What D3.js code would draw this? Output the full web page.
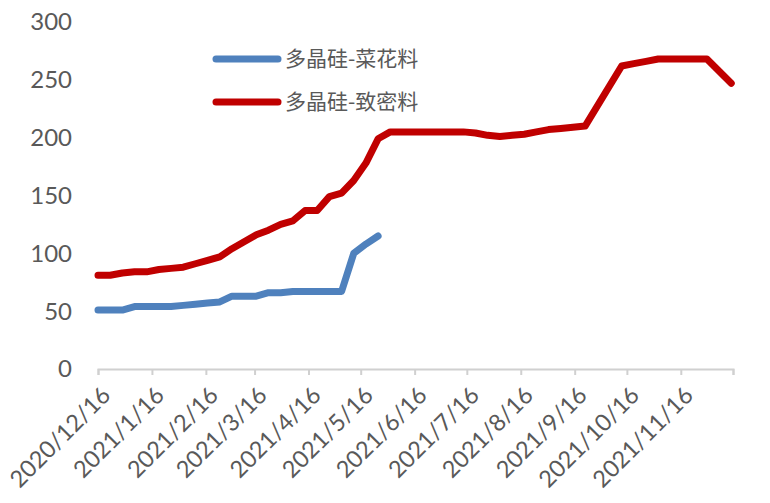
<!DOCTYPE html>
<html><head><meta charset="utf-8">
<script src="https://cdn.jsdelivr.net/npm/d3@7"></script>
<style>
html,body{margin:0;padding:0;background:#fff;}
svg{display:block;}
</style></head>
<body><svg id="c" width="770" height="503"></svg>
<script>
const seriesNames = ["多晶硅-菜花料", "多晶硅-致密料"];
const seriesColors = ["#4f81bd", "#c00000"];

const blueDates = ["2020-12-16","2020-12-23","2020-12-30","2021-01-06","2021-01-13","2021-01-20","2021-01-27","2021-02-03","2021-02-10","2021-02-17","2021-02-24","2021-03-03","2021-03-10","2021-03-17","2021-03-24","2021-03-31","2021-04-07","2021-04-14","2021-04-21","2021-04-28","2021-05-05","2021-05-12","2021-05-19","2021-05-26"];
const blueValues = [51,51,51,54,54,54,54,55,56,57,58,63,63,63,66,66,67,67,67,67,67,100,108,115];

const redDates = ["2020-12-16","2020-12-23","2020-12-30","2021-01-06","2021-01-13","2021-01-20","2021-01-27","2021-02-03","2021-02-10","2021-02-17","2021-02-24","2021-03-03","2021-03-10","2021-03-17","2021-03-24","2021-03-31","2021-04-07","2021-04-14","2021-04-21","2021-04-28","2021-05-05","2021-05-12","2021-05-19","2021-05-26","2021-06-02","2021-06-09","2021-06-16","2021-06-23","2021-06-30","2021-07-07","2021-07-14","2021-07-21","2021-07-28","2021-08-04","2021-08-11","2021-08-18","2021-08-25","2021-09-01","2021-09-08","2021-09-15","2021-09-22","2021-10-13","2021-10-20","2021-10-27","2021-11-03","2021-11-10","2021-11-17","2021-11-24","2021-12-01","2021-12-15"];
const redValues = [81,81,83,84,84,86,87,88,91,94,97,104,110,116,120,125,128,137,137,149,152,163,178,199,205,205,205,205,205,205,205,204,202,201,202,203,205,207,208,209,210,262,264,266,268,268,268,268,268,247];

const xTickDates = ["2020-12-16","2021-01-16","2021-02-16","2021-03-16","2021-04-16","2021-05-16","2021-06-16","2021-07-16","2021-08-16","2021-09-16","2021-10-16","2021-11-16","2021-12-16"];
const xTickLabels = ["2020/12/16","2021/1/16","2021/2/16","2021/3/16","2021/4/16","2021/5/16","2021/6/16","2021/7/16","2021/8/16","2021/9/16","2021/10/16","2021/11/16",""];
const yTicks = [0,50,100,150,200,250,300];

const parse = d3.timeParse("%Y-%m-%d");
const svg = d3.select("#c");
const x = d3.scaleTime().domain([parse(xTickDates[0]), parse(xTickDates[xTickDates.length-1])]).range([98, 733]);
const y = d3.scaleLinear().domain([0,300]).range([369, 22]);
const textColor = "#595959";
const font = "Lato, 'Open Sans', sans-serif";

// y labels
svg.append("g").selectAll("text").data(yTicks).join("text")
  .attr("x", 72).attr("y", d => y(d)).attr("dy", "0.35em")
  .attr("text-anchor", "end").attr("font-family", font).attr("font-size", 24)
  .attr("fill", textColor).text(d => d);

// x axis
const xAxis = d3.axisBottom(x).tickValues(xTickDates.map(parse)).tickSize(6).tickFormat("");
const gx = svg.append("g").attr("transform", "translate(0,369)").call(xAxis);
gx.select(".domain").attr("stroke", "#d0d0d0").attr("stroke-width", 2);
gx.selectAll(".tick line").attr("stroke", "#d0d0d0").attr("stroke-width", 2);

svg.append("g").selectAll("text").data(xTickDates.map((d,i)=>({d:parse(d), l:xTickLabels[i]}))).join("text")
  .attr("transform", d => `translate(${x(d.d)+8},${391}) rotate(-45)`)
  .attr("text-anchor", "end").attr("dy", "0.35em")
  .attr("font-family", font).attr("font-size", 23.5).attr("fill", textColor)
  .text(d => d.l);

// lines
const line = d3.line().x(d => x(d[0])).y(d => y(d[1]));
const blue = blueDates.map((d,i)=>[parse(d), blueValues[i]]);
const red = redDates.map((d,i)=>[parse(d), redValues[i]]);
[blue, red].forEach((data, i) => {
  svg.append("path").datum(data).attr("d", line)
    .attr("fill", "none").attr("stroke", seriesColors[i]).attr("stroke-width", 7)
    .attr("stroke-linejoin", "round").attr("stroke-linecap", "round");
});

// legend
const legY = [59, 102];
seriesNames.forEach((n, i) => {
  svg.append("line").attr("x1", 216).attr("x2", 278).attr("y1", legY[i]).attr("y2", legY[i])
    .attr("stroke", seriesColors[i]).attr("stroke-width", 7).attr("stroke-linecap", "round");
  svg.append("text").attr("x", 285).attr("y", legY[i]).attr("dy", "0.35em")
    .attr("font-family", "'Noto Sans CJK SC', sans-serif").attr("font-size", 21)
    .attr("fill", textColor).text(n);
});
</script></body></html>
